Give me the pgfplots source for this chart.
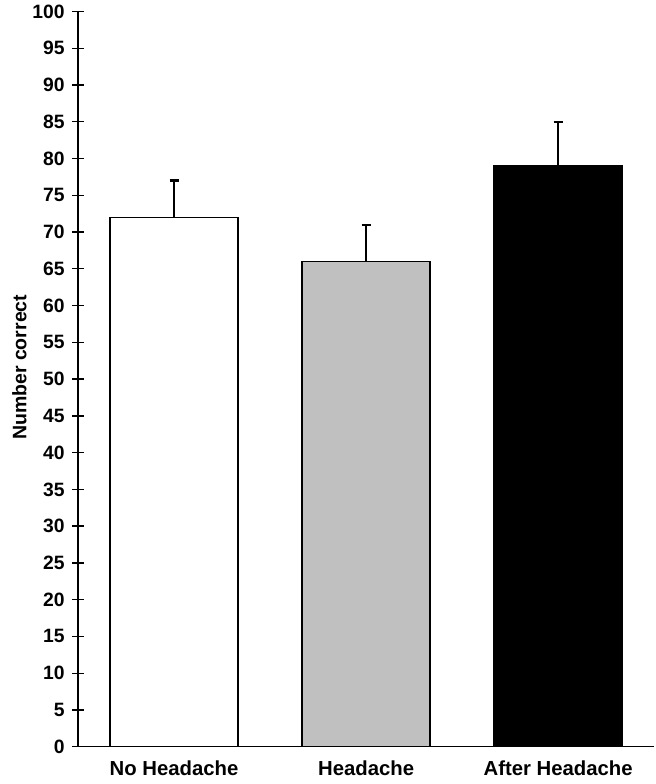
\documentclass[border=0pt]{standalone}
\usepackage{pgfplots}
\pgfplotsset{compat=1.18}
\usepackage{fontspec}
\setmainfont{Liberation Sans}
\definecolor{silverbar}{RGB}{192,192,192}
\newcommand\ytickfont{\bfseries\fontsize{19.3bp}{21bp}\selectfont}
\begin{document}
\begin{tikzpicture}
\begin{axis}[
  scale only axis, width=576bp, height=735bp,
  xmin=-0.5, xmax=2.5, ymin=0, ymax=100,
  axis lines*=left,
  axis line style={line width=1.3bp, black},
  ytick={0,5,10,15,20,25,30,35,40,45,50,55,60,65,70,75,80,85,90,95,100},
  yticklabels={0,5,10,15,20,25,30,35,40,45,50,55,60,65,70,75,80,85,90,95,100},
  every y tick label/.append style={font=\ytickfont, xshift=-4bp},
  xtick={0,1,2},
  xticklabels={No Headache, Headache, After Headache},
  every x tick label/.append style={font=\bfseries\fontsize{20.3bp}{22bp}\selectfont, yshift=1.5bp},
  x tick style={draw=none},
  extra x ticks={-0.5,0.5,1.5,2.5},
  extra x tick labels={},
  extra x tick style={tick style={draw=black, line width=1.3bp}, major tick length=11bp},
  tick align=center,
  major tick length=12bp,
  y tick style={draw=black, line width=1.3bp},
  ylabel={Number correct},
  every axis y label/.append style={font=\bfseries\fontsize{19.5bp}{22bp}\selectfont,
    at={(axis description cs:-0.1019,0.516)}, anchor=center},
  ybar, bar width=0.667, bar shift=0pt,
  error bars/error bar style={line width=1.5bp, black},
  error bars/error mark options={rotate=90, mark size=4.5bp, line width=2.2bp, black},
  clip=false,
]
\addplot[fill=white, draw=black, line width=1.3bp,
  error bars/.cd, y dir=plus, y explicit]
  coordinates {(0,72) +- (0,5)};
\addplot[fill=silverbar, draw=black, line width=1.3bp,
  error bars/.cd, y dir=plus, y explicit]
  coordinates {(1,66) +- (0,5)};
\addplot[fill=black, draw=black, line width=1.3bp,
  error bars/.cd, y dir=plus, y explicit]
  coordinates {(2,79) +- (0,6)};
\end{axis}
\pgfresetboundingbox
\path[use as bounding box] ([xshift=-78bp,yshift=-37.3bp]current axis.south west) rectangle ([xshift=1bp,yshift=11.5bp]current axis.north east);
\end{tikzpicture}
\end{document}
